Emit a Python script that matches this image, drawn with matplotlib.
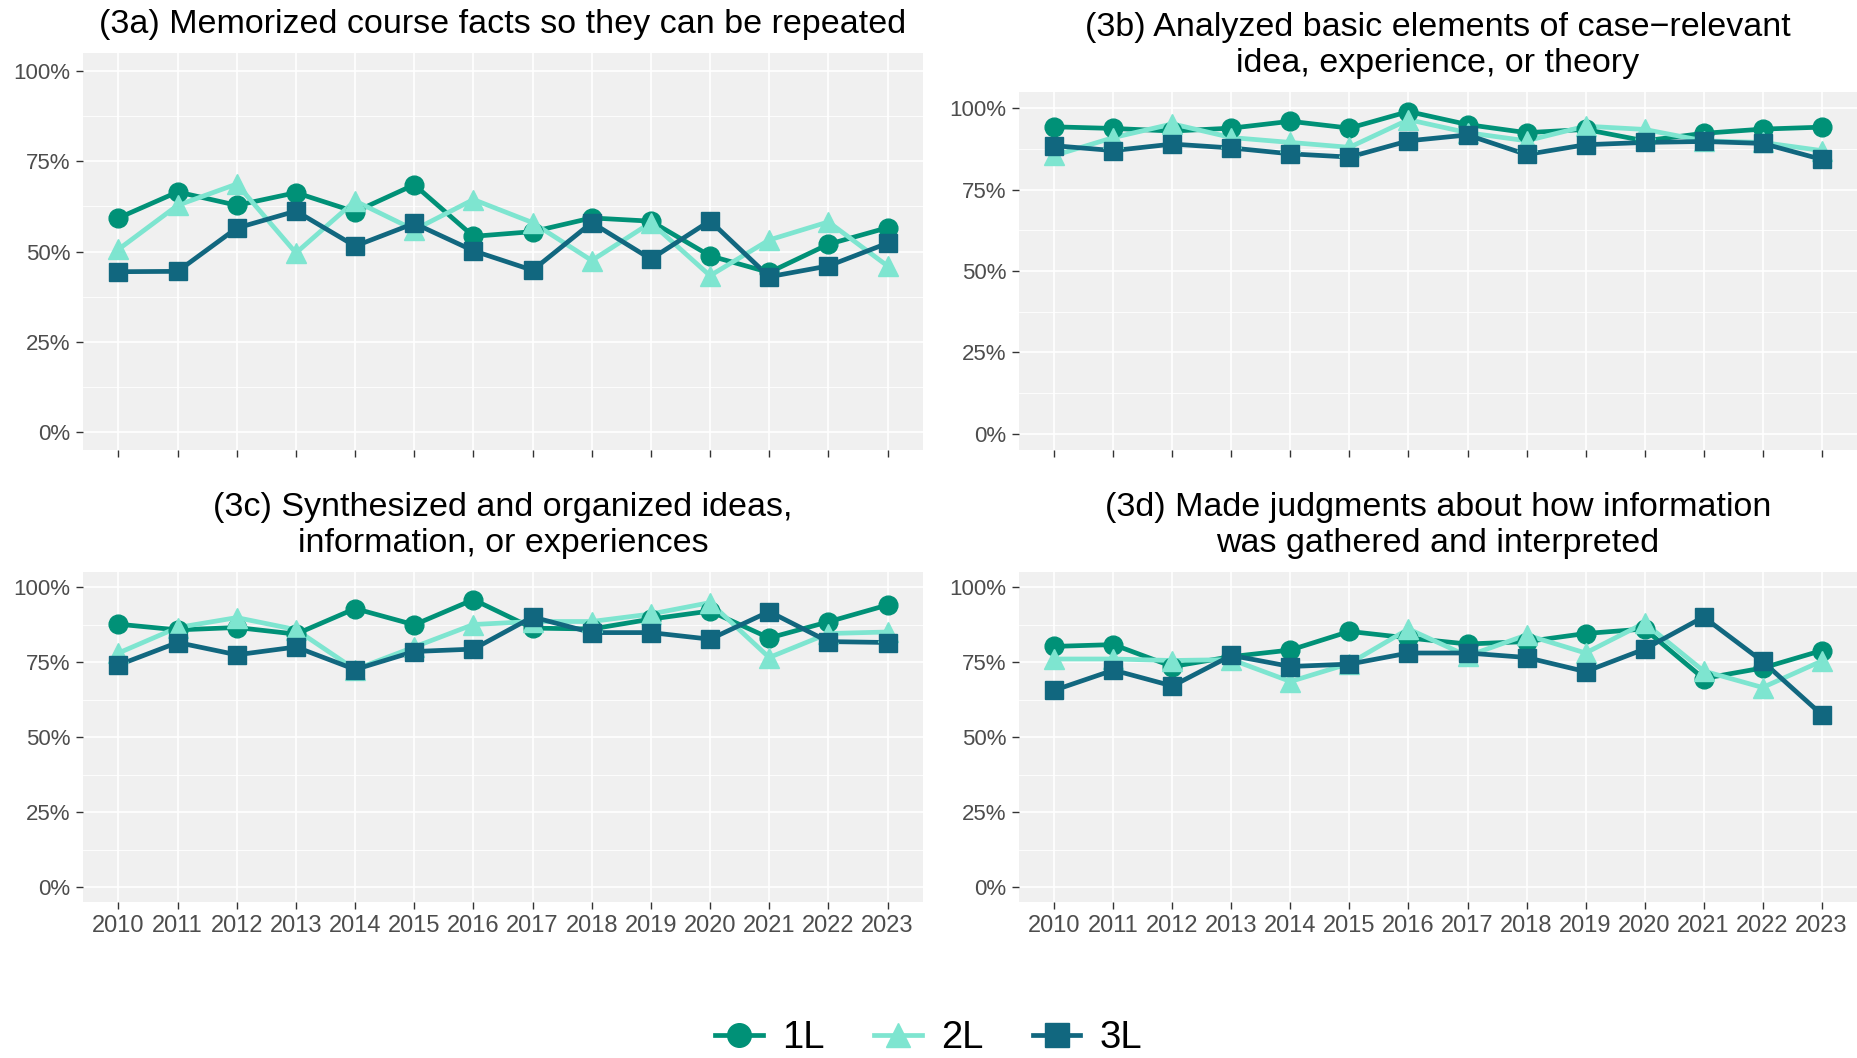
import matplotlib.pyplot as plt
from matplotlib.ticker import MultipleLocator, FuncFormatter
from matplotlib.lines import Line2D

plt.rcParams["font.family"] = ["Liberation Sans", "DejaVu Sans"]

years = [2010, 2011, 2012, 2013, 2014, 2015, 2016, 2017, 2018, 2019, 2020, 2021, 2022, 2023]
groups = ["1L", "2L", "3L"]

titles = [
    "(3a) Memorized course facts so they can be repeated",
    "(3b) Analyzed basic elements of case\u2212relevant\nidea, experience, or theory",
    "(3c) Synthesized and organized ideas,\ninformation, or experiences",
    "(3d) Made judgments about how information\nwas gathered and interpreted",
]

memorized_1L = [59.3, 66.5, 62.8, 66.3, 61.0, 68.5, 54.2, 55.5, 59.3, 58.4, 48.8, 44.2, 52.0, 56.6]
memorized_2L = [50.6, 62.8, 68.7, 49.6, 64.0, 56.0, 64.4, 58.0, 47.5, 58.0, 43.3, 53.2, 58.2, 46.0]
memorized_3L = [44.4, 44.5, 56.5, 61.2, 51.5, 57.8, 50.2, 44.8, 58.0, 47.9, 58.5, 43.0, 46.0, 52.3]

analyzed_1L = [94.3, 93.8, 93.0, 93.9, 96.0, 93.9, 99.0, 95.0, 92.5, 93.5, 90.0, 92.3, 93.6, 94.2]
analyzed_2L = [85.5, 91.0, 95.2, 91.0, 89.5, 88.0, 96.5, 92.5, 90.0, 94.5, 93.5, 90.0, 89.5, 87.0]
analyzed_3L = [88.5, 87.0, 89.0, 87.8, 86.0, 85.0, 90.0, 91.8, 85.8, 88.8, 89.5, 89.8, 89.2, 84.3]

synthesized_1L = [87.6, 85.7, 86.5, 84.3, 92.8, 87.4, 95.8, 86.3, 86.0, 89.3, 92.0, 83.0, 88.4, 94.0]
synthesized_2L = [78.0, 86.5, 89.8, 85.8, 72.5, 80.0, 87.5, 88.5, 88.5, 91.0, 94.8, 76.5, 84.5, 85.0]
synthesized_3L = [74.0, 81.5, 77.4, 80.0, 72.5, 78.5, 79.3, 90.0, 84.8, 84.8, 82.6, 91.8, 81.8, 81.5]

judgments_1L = [80.2, 80.8, 73.5, 76.8, 79.0, 85.2, 83.0, 81.0, 81.8, 84.5, 86.0, 69.5, 73.0, 78.8]
judgments_2L = [76.0, 76.0, 75.5, 75.8, 68.5, 74.5, 86.0, 77.0, 84.0, 78.0, 88.0, 72.0, 66.5, 75.3]
judgments_3L = [65.6, 72.3, 67.0, 77.2, 73.5, 74.3, 78.0, 78.0, 76.5, 71.8, 79.3, 90.0, 75.2, 57.5]

panels = [
    [memorized_1L, memorized_2L, memorized_3L],
    [analyzed_1L, analyzed_2L, analyzed_3L],
    [synthesized_1L, synthesized_2L, synthesized_3L],
    [judgments_1L, judgments_2L, judgments_3L],
]

colors = ["#009177", "#7ee5d0", "#11677f"]
markers = ["o", "^", "s"]
msizes = [13.5, 14.5, 13.0]

W, H = 1857, 1058
# axes boxes in pixels: left, right, top, bottom
boxes = [
    (83, 923, 53, 450),
    (1019, 1857, 92, 450),
    (83, 923, 572, 902),
    (1019, 1857, 572, 902),
]

fig = plt.figure(figsize=(W / 100, H / 100), dpi=100)

for i, (box, series, title) in enumerate(zip(boxes, panels, titles)):
    l, r, t, b = box
    ax = fig.add_axes([l / W, 1 - b / H, (r - l) / W, (b - t) / H])
    ax.set_facecolor("#f0f0f0")
    for s in ax.spines.values():
        s.set_visible(False)
    for vals, c in zip(series, colors):
        ax.plot(years, vals, color=c, lw=3.4, zorder=2, solid_capstyle="butt")
    for vals, c, m, ms in zip(series, colors, markers, msizes):
        ax.plot(years, vals, ls="none", marker=m, ms=ms, color=c, mec=c, zorder=3)

    ax.set_xlim(2009.4, 2023.6)
    ax.set_ylim(-5, 105)
    ax.set_xticks(years)
    ax.yaxis.set_major_locator(MultipleLocator(25))
    ax.yaxis.set_minor_locator(MultipleLocator(12.5))
    ax.yaxis.set_major_formatter(FuncFormatter(lambda v, p: f"{v:.0f}%"))
    ax.grid(which="major", color="white", lw=1.2, zorder=0)
    ax.grid(which="minor", axis="y", color="white", lw=0.6, zorder=0)
    ax.set_axisbelow(True)
    ax.tick_params(axis="both", which="major", length=5, width=1, color="#333333",
                   labelcolor="#4d4d4d")
    ax.tick_params(axis="y", which="minor", length=0)
    ax.tick_params(axis="y", labelsize=16, pad=4)
    ax.tick_params(axis="x", labelsize=17, pad=4)
    if i < 2:
        ax.tick_params(axis="x", labelbottom=False)
    ax.set_title(title, fontsize=24.5, pad=14.5, linespacing=1.2)

handles = [
    Line2D([], [], color=c, lw=3.4, marker=m, ms=17, mec=c)
    for c, m in zip(colors, markers)
]
fig.legend(handles, groups, loc="center", bbox_to_anchor=(0.5, 1 - 1038 / H), ncol=3,
           frameon=False, fontsize=27.5, handlelength=1.25, handletextpad=0.5,
           columnspacing=1.3)

plt.savefig("out.png", dpi=100)
